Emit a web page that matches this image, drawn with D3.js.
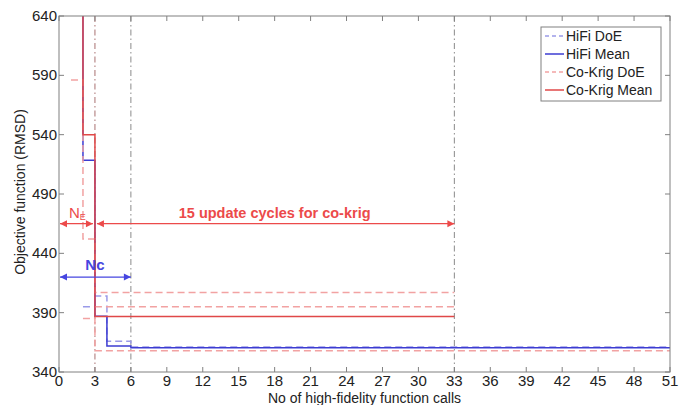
<!DOCTYPE html>
<html><head><meta charset="utf-8">
<script src="https://cdn.jsdelivr.net/npm/d3@7"></script>
<style>body{margin:0;background:#fff}svg{display:block}text{font-family:"Liberation Sans",Arial,sans-serif}</style>
</head><body><svg id="c" width="688" height="405"></svg>
<script>
// ---- data ----
const xTicks = d3.range(0, 52, 3);
const yTicks = [340, 390, 440, 490, 540, 590, 640];
const seriesNames = ["HiFi DoE", "HiFi Mean", "Co-Krig DoE", "Co-Krig Mean"];
// HiFi DoE (step-after)
const hifiDoeX = [2, 3, 4, 6, 51];
const hifiDoeY = [395, 404, 366, 361, 361];
// HiFi Mean
const hifiMeanX = [1, 2, 3, 4, 6, 51];
const hifiMeanY = [700, 518.5, 387, 362, 360.5, 360.5];
// Co-Krig DoE runs
const ckDoeAX = [1, 2, 3, 33];
const ckDoeAY = [586, 452, 407, 407];
const ckDoeBX = [2, 3, 51];
const ckDoeBY = [385, 358, 358];
const ckDoeCX = [3, 33];
const ckDoeCY = [395, 395];
// Co-Krig Mean
const ckMeanX = [1, 2, 3, 33];
const ckMeanY = [700, 540, 386.8, 386.8];
// reference lines & annotations
const refLines = [3, 6, 33];
const neRange = [0, 3], neLevel = 465;
const cycRange = [3, 33];
const ncRange = [0, 6], ncLevel = 420;

// ---- layout ----
const svg = d3.select("#c");
const L = 59, T = 16, R = 670, B = 372;
const x = d3.scaleLinear().domain([0, 51]).range([L, R]);
const y = d3.scaleLinear().domain([340, 640]).range([B, T]);
const axisCol = "#808080", txtCol = "#222";

svg.append("defs").append("clipPath").attr("id", "clip")
  .append("rect").attr("x", L).attr("y", T).attr("width", R - L).attr("height", B - T);

const g = svg.append("g").attr("clip-path", "url(#clip)");

// reference dash-dot verticals
refLines.forEach((v, i) => {
  g.append("line").attr("x1", x(v)).attr("x2", x(v)).attr("y1", T).attr("y2", B)
    .attr("stroke", i === 0 ? "#a87070" : "#8a8a8a").attr("stroke-width", 1)
    .attr("stroke-dasharray", "6,3,1.5,3");
});

const line = d3.line().x(d => x(d[0])).y(d => y(d[1])).curve(d3.curveStepAfter);
function draw(xs, ys, col, w, dash) {
  const p = g.append("path").datum(xs.map((v, i) => [v, ys[i]]))
    .attr("d", line).attr("fill", "none").attr("stroke", col).attr("stroke-width", w);
  if (dash) p.attr("stroke-dasharray", dash);
}
const cHiDoe = "#9a9ae8", cHiMean = "#3c3cd2", cCkDoe = "#f2a2a2", cCkMean = "#e04848";
draw(hifiDoeX, hifiDoeY, cHiDoe, 1.5, "7,4");
draw(hifiMeanX, hifiMeanY, cHiMean, 1.5);
draw(ckDoeAX, ckDoeAY, cCkDoe, 1.5, "7,4");
draw(ckDoeBX, ckDoeBY, cCkDoe, 1.5, "7,4");
draw(ckDoeCX, ckDoeCY, cCkDoe, 1.5, "7,4");
draw(ckMeanX, ckMeanY, cCkMean, 1.5);

// arrows
function dArrow(x1, x2, yy, col) {
  const a = svg.append("g");
  a.append("line").attr("x1", x1).attr("x2", x2).attr("y1", yy).attr("y2", yy)
    .attr("stroke", col).attr("stroke-width", 1.2);
  a.append("path").attr("d", `M${x1},${yy} l7,-3.5 l0,7 z`).attr("fill", col);
  a.append("path").attr("d", `M${x2},${yy} l-7,-3.5 l0,7 z`).attr("fill", col);
}
const cAnnR = "#ec4a4a", cAnnB = "#4646e0";
dArrow(x(neRange[0]) + 1, x(neRange[1]) - 2, y(neLevel), cAnnR);
dArrow(x(cycRange[0]) + 2, x(cycRange[1]), y(neLevel), cAnnR);
dArrow(x(ncRange[0]) + 1, x(ncRange[1]), y(ncLevel), cAnnB);

const ne = svg.append("text").attr("x", 69).attr("y", y(neLevel) - 6)
  .attr("fill", cAnnR).attr("font-size", 15);
ne.append("tspan").text("N");
ne.append("tspan").attr("font-size", 9).attr("dy", 2).text("E");
svg.append("text").attr("x", x(18)).attr("y", y(neLevel) - 6).attr("text-anchor", "middle")
  .attr("fill", cAnnR).attr("font-size", 14.5).attr("font-weight", "bold")
  .text("15 update cycles for co-krig");
svg.append("text").attr("x", x(3)).attr("y", y(ncLevel) - 7).attr("text-anchor", "middle")
  .attr("fill", cAnnB).attr("font-size", 15).attr("font-weight", "bold").text("Nc");

// axes box and ticks
const tl = 5;
svg.append("rect").attr("x", L).attr("y", T).attr("width", R - L).attr("height", B - T)
  .attr("fill", "none").attr("stroke", axisCol).attr("stroke-width", 1);
const ax = svg.append("g");
xTicks.forEach(t => {
  ax.append("line").attr("x1", x(t)).attr("x2", x(t)).attr("y1", B).attr("y2", B - tl).attr("stroke", axisCol);
  ax.append("line").attr("x1", x(t)).attr("x2", x(t)).attr("y1", T).attr("y2", T + tl).attr("stroke", axisCol);
  ax.append("text").attr("x", x(t)).attr("y", B + 14).attr("text-anchor", "middle")
    .attr("font-size", 15).attr("fill", txtCol).text(t);
});
yTicks.forEach(t => {
  ax.append("line").attr("x1", L).attr("x2", L + tl).attr("y1", y(t)).attr("y2", y(t)).attr("stroke", axisCol);
  ax.append("line").attr("x1", R).attr("x2", R - tl).attr("y1", y(t)).attr("y2", y(t)).attr("stroke", axisCol);
  ax.append("text").attr("x", L - 2).attr("y", y(t) + 5).attr("text-anchor", "end")
    .attr("font-size", 15).attr("fill", txtCol).text(t);
});
svg.append("text").attr("x", (L + R) / 2).attr("y", 403).attr("text-anchor", "middle")
  .attr("font-size", 14).attr("fill", txtCol).text("No of high-fidelity function calls");
svg.append("text").attr("transform", `translate(25,${(T + B) / 2 - 2}) rotate(-90)`)
  .attr("text-anchor", "middle").attr("font-size", 14).attr("fill", txtCol)
  .text("Objective function (RMSD)");

// legend
const lg = svg.append("g");
lg.append("rect").attr("x", 541).attr("y", 27).attr("width", 120).attr("height", 74)
  .attr("fill", "#fff").attr("stroke", axisCol);
const legStyle = [[cHiDoe, "4,3"], [cHiMean, null], [cCkDoe, "4,3"], [cCkMean, null]];
seriesNames.forEach((n, i) => {
  const yy = 36 + i * 18;
  const l = lg.append("line").attr("x1", 545).attr("x2", 564).attr("y1", yy).attr("y2", yy)
    .attr("stroke", legStyle[i][0]).attr("stroke-width", 1.5);
  if (legStyle[i][1]) l.attr("stroke-dasharray", legStyle[i][1]);
  lg.append("text").attr("x", 566).attr("y", yy + 5).attr("font-size", 14).attr("fill", txtCol).text(n);
});
</script></body></html>
